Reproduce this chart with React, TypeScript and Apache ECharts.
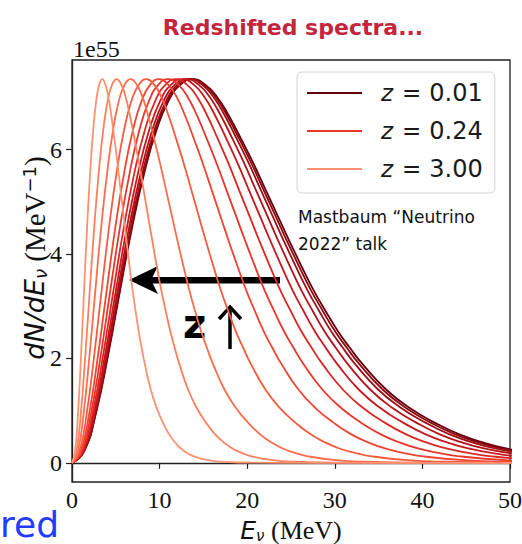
import React, { useEffect, useRef } from 'react';
import * as echarts from 'echarts';

// Spectrum shape: energy as a fraction of the peak energy, and dN/dE (units of 1e55)
const shapeRatio = [0, 0.1, 0.2, 0.3, 0.4, 0.5, 0.6, 0.7, 0.8, 0.9, 1.0, 1.1, 1.2, 1.3, 1.4, 1.5, 1.6, 1.7, 1.8, 1.9, 2.0, 2.1, 2.2, 2.3, 2.4, 2.6, 2.8, 3.0, 3.2, 3.4, 3.6, 3.8, 4.0, 4.5, 5.0, 6.0, 8.0, 15.0];
const shapeValue = [0, 0.22, 0.97, 2.08, 3.33, 4.54, 5.57, 6.38, 6.94, 7.25, 7.35, 7.25, 7.01, 6.64, 6.2, 5.74, 5.24, 4.74, 4.24, 3.76, 3.3, 2.9, 2.52, 2.2, 1.9, 1.4, 1.04, 0.77, 0.55, 0.39, 0.27, 0.19, 0.13, 0.05, 0.02, 0.003, 0, 0];

// Peak energy (MeV) of each redshifted curve (darkest -> lightest)
const peakEnergy = [13.8, 13.65, 13.45, 13.1, 12.6, 11.9, 11.0, 9.95, 8.5, 6.7, 5.1, 3.46];
const redshiftLabels = ['0.01', '0.02', '0.03', '0.05', '0.09', '0.16', '0.24', '0.39', '0.63', '1.07', '1.72', '3.00'];
const curveColors = ['#67000d', '#8a0812', '#a00e14', '#b41219', '#c8171d', '#da2723', '#e8362b', '#f14432', '#f75a3f', '#fb6d4d', '#fc8060', '#fc9272'];
const legendShown = ['0.01', '0.24', '3.00'];

const xTicks = [0, 10, 20, 30, 40, 50];
const yTicks = [0, 2, 4, 6];

export default function App() {
  const ref = useRef<HTMLDivElement>(null);

  useEffect(() => {
    const chart = echarts.init(ref.current!, null, { renderer: 'svg' });

    const series = peakEnergy.map((peak, k) => ({
      name: `z = ${redshiftLabels[k]}`,
      type: 'line',
      data: shapeRatio.map((r, i) => [r * peak, shapeValue[i]]),
      symbol: 'none',
      showSymbol: false,
      smooth: 0.5,
      lineStyle: { width: 1.8, color: curveColors[k] },
      itemStyle: { color: curveColors[k] },
      color: curveColors[k],
      silent: true,
    }));

    const serif = 'Liberation Serif';
    const sans = 'DejaVu Sans';

    const option: any = {
      animation: false,
      backgroundColor: '#fff',
      grid: {
        left: 72,
        top: 60,
        right: 12,
        bottom: 62,
        show: true,
        borderColor: '#222',
        borderWidth: 1.3,
        containLabel: false,
        outerBoundsMode: 'none',
      },
      xAxis: {
        type: 'value',
        min: xTicks[0],
        max: xTicks[xTicks.length - 1],
        interval: 10,
        axisLine: { show: true, lineStyle: { color: '#222', width: 1.3 } },
        axisTick: { show: true, length: 6, lineStyle: { color: '#222', width: 1.2 } },
        axisLabel: { margin: 6, fontFamily: serif, fontSize: 24, color: '#111' },
        splitLine: { show: false },
        name: '{i|E}{s|ν}{r| (MeV)}',
        nameLocation: 'middle',
        nameGap: 35,
        nameMoveOverlap: false,
        nameTextStyle: {
          rich: {
            i: { fontFamily: sans, fontStyle: 'italic', fontSize: 25, color: '#111' },
            s: { fontFamily: sans, fontStyle: 'italic', fontSize: 15, color: '#111', verticalAlign: 'bottom' },
            r: { fontFamily: serif, fontSize: 26, color: '#111' },
          },
        },
      },
      yAxis: {
        type: 'value',
        min: -0.3675,
        max: 7.7175,
        axisLine: { show: true, lineStyle: { color: '#222', width: 1.3 } },
        axisTick: { show: true, length: 6, customValues: yTicks, lineStyle: { color: '#222', width: 1.2 } },
        axisLabel: { margin: 10, fontFamily: serif, fontSize: 24, color: '#111', customValues: yTicks },
        splitLine: { show: false },
        name: '{i|dN/dE}{s|ν}{r| (MeV}{p|−1}{r|)}',
        nameLocation: 'middle',
        nameRotate: 90,
        nameGap: 23,
        nameMoveOverlap: false,
        nameTextStyle: {
          padding: [0, 0, 0, 26],
          rich: {
            i: { fontFamily: sans, fontStyle: 'italic', fontSize: 27, color: '#111' },
            s: { fontFamily: sans, fontStyle: 'italic', fontSize: 18, color: '#111', verticalAlign: 'bottom' },
            r: { fontFamily: serif, fontSize: 29, color: '#111' },
            p: { fontFamily: sans, fontSize: 18, color: '#111', verticalAlign: 'top' },
          },
        },
      },
      legend: {
        show: true,
        orient: 'vertical',
        left: 297,
        top: 72,
        data: legendShown.map((z) => `z = ${z}`),
        icon: 'rect',
        itemWidth: 55,
        itemHeight: 2,
        itemGap: 14,
        padding: [9, 12, 12, 10],
        backgroundColor: '#fff',
        borderColor: '#d4d4d4',
        borderWidth: 1,
        borderRadius: 5,
        selectedMode: false,
        formatter: (name: string) => `{i|z}{e|=}{n|${name.slice(4)}}`,
        textStyle: {
          color: '#1a1a1a',
          rich: {
            i: { fontFamily: sans, fontStyle: 'italic', fontSize: 23, color: '#1a1a1a', padding: [0, 0, 0, 14] },
            e: { fontFamily: sans, fontSize: 23, color: '#1a1a1a', padding: [0, 8, 0, 9] },
            n: { fontFamily: sans, fontSize: 24, color: '#1a1a1a' },
          },
        },
      },
      graphic: [
        {
          type: 'text',
          x: 293,
          y: 27,
          style: {
            text: 'Redshifted spectra...',
            fontFamily: sans,
            fontWeight: 'bold',
            fontSize: 22,
            fill: '#c5243d',
            align: 'center',
            verticalAlign: 'middle',
          },
        },
        {
          type: 'text',
          x: 73,
          y: 49,
          style: { text: '1e55', fontFamily: serif, fontSize: 24, fill: '#111', align: 'left', verticalAlign: 'middle' },
        },
        {
          type: 'text',
          x: 298,
          y: 217,
          style: { text: 'Mastbaum “Neutrino', fontFamily: sans, fontSize: 17, fill: '#111', align: 'left', verticalAlign: 'middle' },
        },
        {
          type: 'text',
          x: 298,
          y: 244,
          style: { text: '2022” talk', fontFamily: sans, fontSize: 17, fill: '#111', align: 'left', verticalAlign: 'middle' },
        },
        {
          type: 'rect',
          shape: { x: 150, y: 277, width: 130, height: 6.5 },
          style: { fill: '#000' },
        },
        {
          type: 'polygon',
          shape: { points: [[129, 280], [158, 266], [151, 280], [158, 294]] },
          style: { fill: '#000' },
        },
        {
          type: 'text',
          x: 183,
          y: 324,
          style: { text: 'z', fontFamily: sans, fontWeight: 'bold', fontSize: 40, fill: '#000', align: 'left', verticalAlign: 'middle' },
        },
        {
          type: 'line',
          shape: { x1: 230, y1: 349, x2: 230, y2: 308 },
          style: { stroke: '#000', lineWidth: 3.5 },
        },
        {
          type: 'polyline',
          shape: { points: [[219, 319], [230, 307], [241, 319]] },
          style: { stroke: '#000', lineWidth: 3.5, fill: null },
        },
        {
          type: 'text',
          x: 0,
          y: 524,
          style: { text: 'red', fontFamily: sans, fontSize: 36, fill: '#1f3cff', align: 'left', verticalAlign: 'middle' },
        },
      ],
      series,
    };

    chart.setOption(option);
    return () => chart.dispose();
  }, []);

  return (
    <div
      ref={ref}
      style={{ width: 522, height: 544, position: 'absolute', left: 0, top: 0 }}
    />
  );
}
